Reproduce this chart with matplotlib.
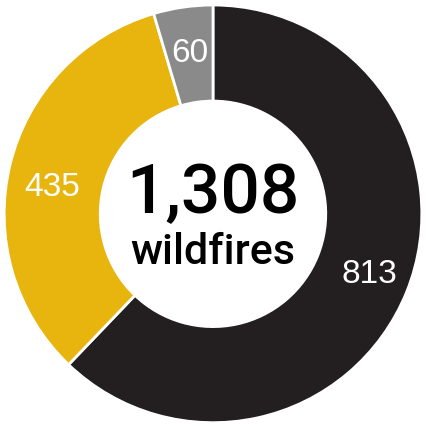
import matplotlib.pyplot as plt

labels = ["813", "435", "60"]
values = [813, 435, 60]
colors = ["#231f20", "#e8b40e", "#8a8a8a"]
total_text = "1,308"
sub_text = "wildfires"

plt.rcParams['font.family'] = ['Liberation Sans', 'DejaVu Sans']

fig = plt.figure(figsize=(4.26, 4.26), dpi=100)
ax = fig.add_axes([0, 0, 1, 1])

wedges, texts = ax.pie(values, colors=colors, startangle=90, counterclock=False,
                       radius=1.0, labels=labels, labeldistance=0.79,
                       wedgeprops=dict(width=0.46, edgecolor='white', linewidth=2),
                       textprops=dict(color='white', fontsize=24, ha='center', va='center'))
# nudge labels to where the original places them
label_pos = [(0.75, -0.29), (-0.77, 0.125), (-0.11, 0.77)]
for t, p in zip(texts, label_pos):
    t.set_position(p)

ax.text(0, 0.095, total_text, ha='center', va='center', fontsize=50, color='black',
        fontweight='medium', family=['Roboto', 'DejaVu Sans'])
ax.text(0, -0.185, sub_text, ha='center', va='center', fontsize=31, color='black',
        family=['Roboto', 'DejaVu Sans'], fontweight='medium')

ax.set_xlim(-1.02, 1.02)
ax.set_ylim(-1.016, 1.024)
ax.set_aspect('equal')
ax.axis('off')

fig.savefig("out.png", dpi=100)
